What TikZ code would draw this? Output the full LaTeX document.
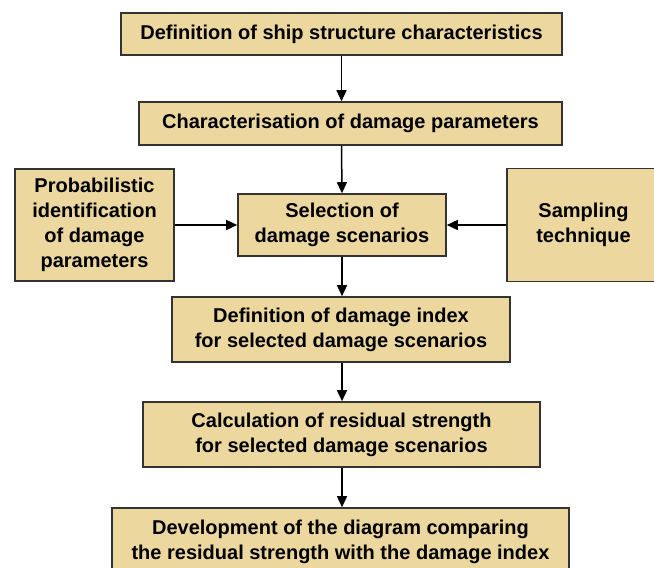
\documentclass[tikz,border=0pt]{standalone}
\usepackage{fontspec}
\setmainfont{Liberation Sans}
\usepackage{xcolor}
\usetikzlibrary{arrows.meta}
\definecolor{papyrus}{RGB}{236,216,158}

\begin{document}
\begin{tikzpicture}[x=1pt, y=-1pt,
    box/.style={shape=rectangle, draw=black!80, line width=1.6pt, fill=papyrus,
      inner sep=0pt, align=center, font=\fontsize{20}{25}\selectfont\bfseries},
    link/.style={line width=1.5pt, -{Triangle[length=11pt,width=10pt]}}]
    \useasboundingbox (0,0) rectangle (654,568);
    \clip (0,0) rectangle (654,568);

    \node[box, minimum width=441pt, minimum height=42pt] (ship) at (341.5,34) {Definition of ship structure characteristics};
    \node[box, minimum width=423pt, minimum height=43pt] (charac) at (350.5,123.5) {Characterisation of damage parameters};
    \node[box, minimum width=159pt, minimum height=112pt] (prob) at (94.5,225) {Probabilistic\\identification\\of damage\\parameters};
    \node[box, minimum width=208pt, minimum height=62pt] (select) at (342,225) {Selection of\\damage scenarios};
    \node[box, minimum width=153pt, minimum height=113pt] (sampling) at (583.5,225) {Sampling\\technique};
    \node[box, minimum width=338pt, minimum height=65pt] (index) at (341,329.5) {Definition of damage index\\for selected damage scenarios};
    \node[box, minimum width=397pt, minimum height=65pt] (resid) at (341.5,434.5) {Calculation of residual strength\\for selected damage scenarios};
    \node[box, minimum width=457pt, minimum height=68pt] (diagram) at (340.5,542) {Development of the diagram comparing\\the residual strength with the damage index};

    \draw[link] (ship.south) -- (ship.south |- charac.north);
    \draw[link] (ship.south |- charac.south) -- (select.north);
    \draw[link] (prob.east) -- (select.west);
    \draw[link] (sampling.west) -- (select.east);
    \draw[link] (select.south) -- (select.south |- index.north);
    \draw[link] (select.south |- index.south) -- (select.south |- resid.north);
    \draw[link] (select.south |- resid.south) -- (select.south |- diagram.north);
\end{tikzpicture}
\end{document}
